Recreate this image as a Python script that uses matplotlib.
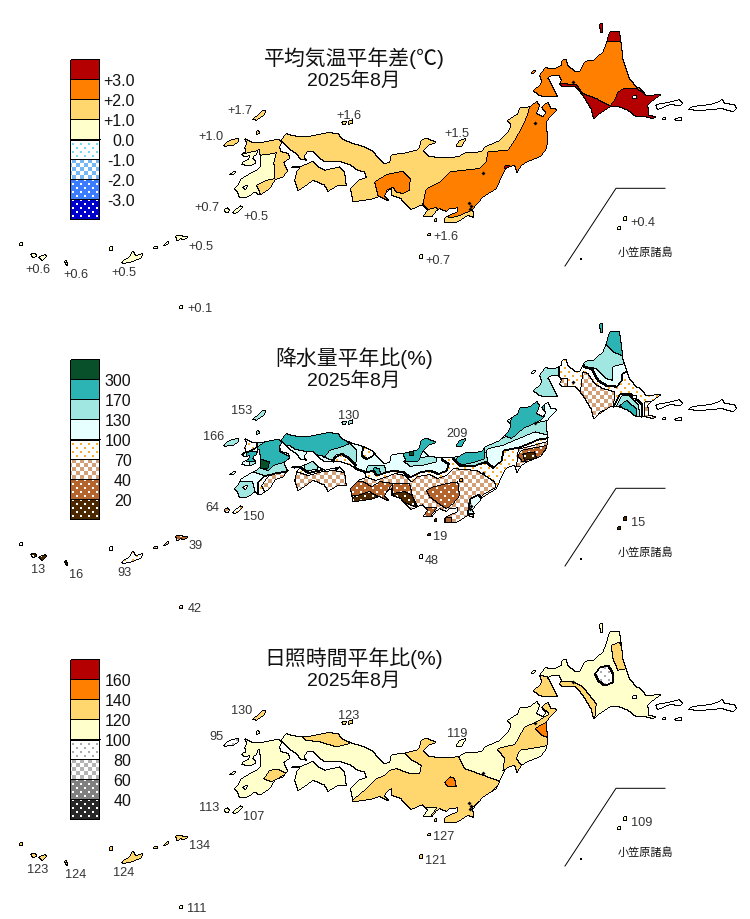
import matplotlib
matplotlib.use("Agg")
import matplotlib.pyplot as plt
import numpy as np
from matplotlib.colors import to_rgb
from matplotlib.path import Path

plt.rcParams['font.family'] = ['Liberation Sans', 'Noto Sans CJK JP']

W, H = 750, 920
PANEL_H = 320
OFFSETS = [0, 300, 600]

# ---- coast outlines, in pixels of the top panel ----
HONSHU = [(281.7,141.7),(286,135),(293.3,137.3),(306.7,138.3),(328.3,134),(338.3,135),(343.3,140.7),
    (353.3,145),(365,148.3),(374.3,153.3),(378.3,159.3),(385,165),(390,164),(391.7,156),(403.3,155),
    (416.7,151.7),(420,148.3),(421.7,140.7),(428.3,140),(436.7,144),(430,146),(423.3,151.7),(428.3,157.3),
    (440,159.3),(458.3,158.3),(465,154.3),(481.7,153.3),(485,148.3),(498.3,142.7),(508.3,133.3),(511.7,126),
    (507.7,121.7),(518.3,115),(520,109.3),(530,108.3),(537.3,102.3),(540,107.3),(536.7,115),(543.3,118.3),
    (546,114),(541.7,108.3),(548.3,103.3),(551.7,110),(557.3,110.7),(550,118.3),(546.7,123.3),(548.3,143.3),
    (546,151.7),(540,158.3),(527.3,163.3),(521.7,166.7),(517.3,174),(515,166.7),(506.7,169.3),(503.3,175),
    (496.7,190),(483.3,198.3),(473.3,210),(474,219),(468.3,216.7),(456.7,224),(445,224),(445,219),(450,216.7),
    (458.3,212.7),(458.3,209.3),(450,210),(446.7,213),(440,210),(436.7,212),(432,218.3),(423.3,218.3),
    (428,211),(423,206),(411.7,210.7),(403.3,203.3),(401.7,200),(391.7,196.7),(391.7,190),(386.7,193.3),
    (385,197),(390,202.7),(380,198),(370,201),(353.3,203.3),(352.3,196.7),(350.7,189.3),(360,181),(367,179),
    (365,173.3),(358,171.7),(350,166),(340,163),(325,163),(318,158),(313.5,152.5),(308,152.5),(304.5,158),
    (306.7,161.7),(301,160.7),(296.7,155),(290,150.7),(283.3,144)]
KYUSHU = [(245,140),(253.3,144),(261.7,144),(278.3,140.7),(282.3,143.3),(280,148.3),(281.7,153.3),(289,155),
    (290,160),(284.3,163.3),(286.7,170),(288.3,171.7),(283.3,178.3),(278.3,180),(275,181.7),(270,190),
    (260,196.7),(255,193.3),(248.3,198.3),(240,199.3),(237.7,193.3),(234.3,190),(238.3,186.7),(241.7,180),
    (250,175),(258.3,170.7),(261,167.3),(260.3,151.7),(258.3,150.7),(257,156),(254.3,157.3),(253.3,160),
    (255.7,162),(255.7,165),(250,167.3),(241.7,166),(243.3,163.3),(249,160.7),(250,156.7),(245,158.3),
    (241,155),(246.7,153.3),(245,148.3),(247.7,145)]
SHIKOKU = [(295,181.7),(297.7,171.7),(302.3,167.3),(313.3,162.7),(318.3,168.3),(325,171.7),(340,168.3),
    (345,173.3),(346.7,186.7),(338.3,186.7),(328.3,192.7),(325,186.7),(313.3,181.7),(301.7,190),(298.3,191.7)]
SADAMISAKI = [(291.7,167.6),(303,167.6),(303,169),(291.7,169)]
HOKKAIDO = [(606.7,45),(610,33),(620,33),(621.7,45),(623.3,60),(630,80),(636.7,88.3),(641,90),(646.7,97.3),
    (661.7,95.7),(653.3,101.7),(648.3,106.7),(649.3,116.7),(656.7,118.3),(653.3,120),(643.3,117.7),
    (636.7,118.3),(628.3,111.7),(620,108.3),(610,108.3),(600,115),(594,120),(591.7,110.7),(583.3,96.7),
    (576,88.3),(561.7,87.7),(560,85),(561.7,81.7),(559.3,76.7),(551.7,76.7),(548.3,79.3),(553.3,88.3),
    (558.3,98.3),(550,98.3),(540,97.3),(533.3,91.7),(540,86.7),(542.3,83.3),(540,76.7),(545,69.3),(555,70),
    (561.7,66.7),(562.7,60.7),(566.7,60.7),(568.3,66.7),(575,72.7),(580,72.7),(585,62.7),(593.3,61.7),(603.3,53.3)]
MAIN_LAND = [HONSHU, KYUSHU, SHIKOKU, SADAMISAKI, HOKKAIDO]
HOLES = [[(633,97),(637,97),(637,100),(633,100)],
         [(243,188),(248,186.7),(246,191)]]

ISLANDS = [
    [(252.7,121),(258.3,116),(262.7,111.7),(266.7,111.7),(264,116.7),(256.7,121.7)],  # tsushima
    [(256.7,131.7),(259.3,131.7),(260,135),(256.7,135.7)],  # iki
    [(224,146),(230,141.7),(239.3,139.3),(239.3,142.7),(233.3,146.7),(225,147.7)],  # goto
    [(342.3,123.3),(346.7,122.7),(346,126),(343.3,126)],  # oki
    [(349,122.3),(353.3,121),(353.3,125),(349.3,125.7)],
    [(456.7,146.7),(460,141.7),(467.3,139.3),(463.3,145),(461.7,148.3),(456.7,148.3)],  # sado
    [(229.3,176),(233.3,173.3),(236.7,173.3),(233.3,176)],  # koshiki
    [(225,210),(228.3,209.3),(230,211.7),(228.3,214.3),(225,213.3)],  # tanegashima side
    [(233.3,213.3),(240,207.3),(242.7,208.3),(240,211.7),(235,215.7)],  # yakushima side
    [(435,220),(437,220),(437,223),(435,223)],  # izu
    [(428,235.5),(431,235),(431,237),(428,237)],
    [(420,256),(422.5,256),(422.5,260),(420,260)],  # hachijo
    [(624,218),(627,218),(627,222),(624,222)],  # ogasawara
    [(618.5,228),(620.5,228),(620.5,231),(618.5,231)],
    [(600,25),(603,25),(603,34),(601,34)],  # rishiri
    [(531,74),(534,72),(536,72),(533,75)],  # okushiri
    [(20,244),(23,244),(23,247),(20,247)],  # nansei from here
    [(31,255),(36,255),(37,258),(33,259)],
    [(39,258),(46,256),(47,258),(42,262)],
    [(65,262),(67,262),(68,267),(66,266)],
    [(110,248),(113,248),(113,252),(110,252)],
    [(122,263),(130,258),(133,252),(136,257),(143,255),(142,259),(133,263),(124,265)],
    [(154,248),(158,248),(158,250),(154,250)],
    [(164,247),(166,244),(169,243),(168,246)],
    [(176,237),(189,238),(184,241),(180,240),(178,243)],
    [(180,307),(183,307),(183,310),(180,310)],
]
KURILES = [
    [(656,106),(668,104),(680,101),(683,105),(680,107),(670,106),(658,111)],
    [(688,111),(693,108),(710,106),(720,103),(722,100),(725,105),(735,106),(737,110),(733,113),(722,110),(700,112)],
    [(663,119),(665.5,119),(665.5,121),(663,121)],
    [(675,120),(682,119),(682,122),(676,122)],
]
LAKE_X = [482.5, 534.5, 572.5, 469, 471, 470]
LAKE_Y = [174.2, 124, 82.5, 204, 207, 210]
INSET_X = [665, 616, 565]
INSET_Y = [189.3, 189.3, 267]

# ---- class regions: (class, polygon), painted in order ----
temp_base = 2
temp_regions = [
    (3, [(260,156.7),(268.3,156),(276.7,154),(274.3,163.3),(275,173.3),(275,180),(266.7,181.7),(256.7,186.7),(260,193.3),(262,200),(225,205),(225,156),(245,155),(258,152)]),
    (1, [(375,183.3),(386.7,176),(403.3,172.7),(410.7,180),(410,191.7),(403.3,195),(396.7,193.3),(393.3,188.3),(386.7,191.7),(390,205),(378.3,196.7)]),
    (1, [(423.3,205),(426.7,190),(440,183.3),(450,173.3),(480,170),(486.7,163.3),(488.3,153.3),(508.3,151.7),(515,141.7),(523.3,126.7),(528.3,115),(530,108.3),(530,100),(565,100),(565,150),(490,210),(473,211),(460,217),(452,219),(447,218),(440,212),(436,209),(428,211)]),
    (0, [(505,167),(510,167),(510,170),(505,170)]),
    (1, [(530,25),(630,25),(670,90),(670,125),(585,125),(530,105)]),
    (0, [(606.7,43.3),(621.7,43.3),(621.7,30),(606.7,30)]),
    (0, [(560,85),(576.7,86),(583.3,95),(596.7,100),(610,107.3),(615,101.7),(618.3,93.3),(623.3,90),(636.7,90),(645,95),(665,95),(665,125),(590,125),(575,95),(555,88)]),
]
temp_islands = [2,2,2,2,2,2,3,3,3,2,2,3,3,3,0,1,3,3,3,3,3,3,3,3,3,3]

rain_base = 4
rain_regions = [
    (3, [(355,168),(356.7,170),(366.7,173.3),(373.3,171.7),(376.7,176.7),(386.7,173.3),(393.3,171.7),(403.3,173.3),(410,178.3),(420,173.3),(430,171.7),(438.3,175),(446.7,171.7),(449,165),(442,161),(442,150),(454,150),(453.3,160),(460,166.7),(473.3,166.7),(486.7,163.3),(493.3,169),(501.7,161.7),(503.3,151.7),(520,148.3),(540,140),(548.3,139.3),(565,135),(565,95),(530,95),(284,125),(281.5,139),(283,146),(290,155),(305,163),(325,164),(344,169)]),
    (3, [(258.3,193.3),(258.3,183.3),(265,176.7),(273.3,171.7),(285,170.7),(295,170),(295,135),(256.7,135),(256.7,148.3),(250,152),(230,160),(225,200),(258,200)]),
    (3, [(290,170),(296,168.3),(300,168.3),(308.3,174),(323.3,170.7),(333.3,169.3),(345,171),(345,160),(290,160)]),
    (2, [(305,163),(318,163),(318,171),(305,172)]),
    (1, [(278,132),(338,132),(345,141),(350,146),(342,148.3),(330,151.7),(325,158),(312,155),(303,152),(296,151),(290,147),(280,146)]),
    (2, [(325,158.3),(330,151.7),(341.7,148.3),(350,145),(356.7,151.7),(356.7,163.3),(354,164),(348.3,158.3),(341.7,155),(335,156.7),(332.7,161.7),(323.3,158.3)]),
    (4, [(335,158.3),(341.7,155),(350,160),(356,167),(345,175),(333,165)]),
    (4, [(363.3,148),(361.7,156.7),(366.7,160),(373.3,156.7),(375,150)]),
    (2, [(368,167),(385,167),(386.7,173.3),(376.7,176.7),(373.3,171.7),(366.7,173.3)]),
    (1, [(373.3,171.7),(376.7,176.7),(381,175),(380,170),(374,169)]),
    (2, [(403.3,161.7),(436.7,156.7),(436.7,163.3),(423.3,166.7),(410,167.7)]),
    (1, [(403.3,155),(400,150),(415,135),(440,135),(440,146),(423.3,151.7),(420,160),(416.7,163.3),(406.7,163.3)]),
    (0, [(410,153.3),(414,153.3),(414,157.3),(410,157.3)]),
    (2, [(453,158),(485,147),(488,162),(475,166.7),(460,166.7)]),
    (1, [(456.7,160),(463.3,150),(485,145),(485,160),(473.3,164),(463.3,166),(458.3,165)]),
    (2, [(485,148.3),(508.3,136.7),(525,126.7),(548.3,121.7),(555,138.3),(535,133.3),(515,141.7),(503.3,146.7),(488.3,150),(486,153.3)]),
    (1, [(505,137),(510,130),(515,100),(545,100),(545,118),(540,122),(523.3,130),(511.7,140)]),
    # kyushu
    (2, [(250,163),(292,160),(288,172),(265,177),(250,172)]),
    (2, [(258,143),(266,141),(263,152),(258,153)]),
    (1, [(258,148),(270,140),(280,141),(280,153),(290,158),(287,163),(273,167),(268,172),(258,168),(255,165),(258,160)]),
    (0, [(258.3,160),(270,163.3),(268.3,170),(261.7,170),(258.3,166.7)]),
    (1, [(247,153),(257,153),(257,163),(247,163)]),
    (2, [(228,183),(253,183),(256,195),(250,205),(228,205)]),
    (5, [(262,187),(268,178),(276,174),(290,173),(290,180),(268,200)]),
    # shikoku and the south
    (5, [(296,173),(308,177),(323,173),(335,172),(348,175),(350,195),(295,195)]),
    (5, [(352,176),(365,178),(376,182),(388,178),(395,175),(405,177),(412,183),(418,178),(430,176),(438,180),(447,177),(453,170),(477,172),(485,176.7),(495,183.3),(496.7,188.3),(485,195),(474,205),(480,228),(350,228),(350,178)]),
    (6, [(351,190),(355,183),(363,183),(372,188),(380,183),(393,185),(387,193),(387,202),(377,197),(363,197),(352,197)]),
    (7, [(352,200),(357,197),(370,193),(378,198),(373,203),(363,207),(352,205)]),
    (6, [(393,185),(410,185),(413,198),(418,208),(402,200),(393,195)]),
    (7, [(393,195),(405,193),(413,197),(416,208),(410,206),(400,202)]),
    (6, [(426.7,191.7),(433.3,188.3),(446.7,185),(458.3,183.3),(460,196.7),(453.3,205),(446.7,210),(436.7,203.3),(430,198.3)]),
    (6, [(423,209),(437,209),(430,219),(423,219)]),
    (6, [(446,219),(452,219),(452,225),(446,225)]),
    (4, [(459.5,180),(463,180),(463.5,183),(460,183.5)]),
    (3, [(468,215),(470,200),(478,196),(482,200),(474,215)]),
    (5, [(518.7,150.7),(548,143),(550,152),(530,168),(517,168)]),
    (6, [(521.7,151.7),(548,146.7),(541.7,156.7),(535,161.7),(523,163.3),(518,156.7)]),
    (7, [(523.3,155),(535,153.3),(537,160),(525,161.7)]),
    # hokkaido
    (3, [(585,68.3),(591.7,70),(598.3,81.7),(606.7,86.7),(616.7,87.7),(621.7,81.7),(621.7,75),(625,73.3),(640,70),(625,25),(590,40),(575,60)]),
    (2, [(585,68),(583,60),(603,50),(610,45),(625,55),(625,65),(613,68),(613.3,82),(606.7,80),(597,70)]),
    (1, [(606.7,43.3),(610,28),(625,28),(625,58.3),(613,53),(606,45)]),
    (2, [(530,65),(559,65),(559,100),(530,100)]),
    (5, [(583.3,73.3),(588.3,75),(595,85),(603.3,90),(615,93.3),(615,100),(613.3,108.3),(600,113.3),(594,125),(580,100)]),
    (5, [(560,80),(568,80),(568,88),(560,88)]),
    (3, [(613.3,108.3),(620,95),(630,95),(641.7,105),(641.7,120),(613,120)]),
    (2, [(616.7,107.3),(621.7,97.3),(630,97.3),(639.3,106.7),(640,120),(631.7,120)]),
    (1, [(620,106.7),(626.7,101.7),(636.7,110),(636.7,120),(628.3,115)]),
    (5, [(645,103),(651,103),(660,125),(645,125)]),
]
rain_islands = [2,2,2,2,2,1,3,5,4,7,7,5,7,7,1,3,7,7,7,7,4,4,5,5,6,5]

sun_base = 3
sun_regions = [
    (2, [(405,155),(413,162),(421.7,166.7),(420,175),(410,175),(396.7,170),(390,171.7),(385,176.7),(377,180),(363,193),(352,202),(352,225),(476,225),(473,208),(495,190),(501.7,183.3),(483.3,176.7),(465,170),(458.3,156.7),(458,150),(430,135),(415,135)]),
    (3, [(423,209),(437,209),(430,219),(423,219)]),
    (1, [(445,183.3),(450,178.3),(455,180),(456.7,188.3),(448.3,188.3)]),
    (2, [(301,137.3),(301,130),(340,130),(350,145),(336.7,148.3),(320,143.3),(306.7,141.7)]),
    (2, [(264,180),(270,171.7),(278.3,170.7),(286.7,175),(271.7,183.3)]),
    (2, [(497.3,150),(515,146),(525,128.3),(536.7,123.3),(550,115),(541,108),(551,100),(565,108),(552,125),(555,145),(541.7,148.3),(520,151.7),(516.7,160),(521.7,166.7),(517.7,178),(515,166.7),(503.3,172),(505,160)]),
    (1, [(535,130),(546.7,123.3),(552,140),(541.7,136.7)]),
    (2, [(611.7,46.7),(620,43.3),(625,56.7),(628,70),(618.3,71.7),(613.3,60)]),
    (2, [(560,82.7),(573.3,83.3),(583.3,88.3),(596.7,105),(595,122),(580,100),(570,92),(560,92)]),
    (2, [(540,76.7),(548.3,78.3),(553.3,88.3),(560,100),(530,100),(530,90)]),
    (4, [(595,75),(600,68.3),(608.3,66.7),(613.3,75),(613.3,83.3),(605,86.7),(598.3,81.7)]),
]
sun_islands = [2,3,4,2,2,3,3,3,3,2,2,2,3,3,3,3,2,2,2,2,2,2,2,2,2,3]

# ---- legend classes, top to bottom ----
temp_styles = [('#b40000',None),('#ff8000',None),('#ffd76e',None),('#ffffcc',None),
    ('#6fdcef','dots'),('#78b8f2','check'),('#3c7dff','wdots'),('#0000cd','wdots')]
rain_styles = [('#07502a',None),('#2cb4b4',None),('#a0e6e1',None),('#e6ffff',None),
    ('#f5aa32','dots'),('#d2a078','check'),('#b4642d','wdots'),('#4b2800','wdots')]
sun_styles = [('#b40000',None),('#ff8000',None),('#ffd76e',None),('#ffffcc',None),
    ('#aaaaaa','dots'),('#b4b4b4','check'),('#808080','wdots'),('#282828','wdots')]
temp_ticks = ['+3.0','+2.0','+1.0','0.0','-1.0','-2.0','-3.0']
rain_ticks = ['300','170','130','100','70','40','20']
sun_ticks = ['160','140','120','100','80','60','40']

# ---- station labels in order: tsushima, oki, goto, sado, tanegashima, yakushima,
#      izu, hachijo, ogasawara, amami, yaeyama, miyako, okinawa, daito ----
temp_labels = ['+1.7','+1.6','+1.0','+1.5','+0.7','+0.5','+1.6','+0.7','+0.4','+0.5','+0.6','+0.6','+0.5','+0.1']
rain_labels = ['153','130','166','209','64','150','19','48','15','39','13','16','93','42']
sun_labels = ['130','123','95','119','113','107','127','121','109','134','123','124','124','111']
label_x = [252.5,349,224,457,219.5,243,433.5,425,630.5,188.5,38,76,124,187.5]
label_y = [111.5,115.8,137.5,133.8,208,217.5,237.5,261,223,246.5,269.8,275,273.5,309.5]
label_ha = ['right','center','right','center','right','left','left','left','left','left','center','center','center','left']

titles = ['平均気温平年差(℃)','降水量平年比(%)','日照時間平年比(%)']
subtitle = '2025年8月'


def poly_mask(pts, grid):
    return Path(np.array(pts)).contains_points(grid).reshape(PANEL_H, W)


def paint_panel(base, regions, island_classes, grid):
    land = np.zeros((PANEL_H, W), bool)
    for poly in MAIN_LAND:
        land |= poly_mask(poly, grid)
    cls = np.full((PANEL_H, W), -1)
    cls[land] = base
    for c, poly in regions:
        cls[land & poly_mask(poly, grid)] = c
    for c, poly in zip(island_classes, ISLANDS):
        cls[poly_mask(poly, grid)] = c
    for poly in KURILES:
        cls[poly_mask(poly, grid)] = 8
    for poly in HOLES:
        cls[poly_mask(poly, grid)] = -1
    # legend column
    for i in range(8):
        cls[61 + 20 * i:81 + 20 * i, 71:100] = i
    return cls


def to_image(cls, styles):
    yy, xx = np.mgrid[0:cls.shape[0], 0:W]
    dots = ((xx % 8 < 2) & (yy % 8 < 2)) | (((xx + 4) % 8 < 2) & ((yy + 4) % 8 < 2))
    check = ((xx // 4 + yy // 4) % 2) == 0
    img = np.ones(cls.shape + (3,))
    for i, (col, kind) in enumerate(styles):
        m = cls == i
        rgb = np.array(to_rgb(col))
        if kind is None:
            img[m] = rgb
        elif kind == 'dots':
            img[m & dots] = rgb
        elif kind == 'check':
            img[m & check] = rgb
        else:
            img[m] = rgb
            img[m & dots] = 1.0
    # class borders
    edge = np.zeros(cls.shape, bool)
    thick = np.zeros(cls.shape, bool)
    for a, b, e, t in [(cls[:, :-1], cls[:, 1:], edge[:, :-1], thick[:, :-1]),
                       (cls[:-1, :], cls[1:, :], edge[:-1, :], thick[:-1, :])]:
        e |= a != b
        upper = ((a >= 0) & (a <= 3) & (b >= 4) & (b <= 7))
        lower = ((b >= 0) & (b <= 3) & (a >= 4) & (a <= 7))
        t |= upper | lower
    fat = thick.copy()
    fat[1:, :] |= thick[:-1, :]
    fat[:, 1:] |= thick[:, :-1]
    img[edge | fat] = 0.0
    return img


yy, xx = np.mgrid[0:PANEL_H, 0:W]
grid = np.column_stack([xx.ravel() + 0.5, yy.ravel() + 0.5])

fig = plt.figure(figsize=(W / 100, H / 100), dpi=100)
ax = fig.add_axes([0, 0, 1, 1])

panels = [(temp_base, temp_regions, temp_islands, temp_styles, temp_ticks, temp_labels, 134.5),
          (rain_base, rain_regions, rain_islands, rain_styles, rain_ticks, rain_labels, 131.5),
          (sun_base, sun_regions, sun_islands, sun_styles, sun_ticks, sun_labels, 131.5)]

canvas = np.ones((H, W, 3))
for off, (base, regions, islands, styles, ticks, labels, tick_x) in zip(OFFSETS, panels):
    cls = paint_panel(base, regions, islands, grid)
    img = to_image(cls, styles)
    view = canvas[off:off + PANEL_H]
    painted = img.min(axis=2) < 1.0
    keep = cls != -1
    view[painted | keep] = img[painted | keep]

ax.imshow(canvas, extent=(0, W, H, 0), interpolation='nearest', aspect='auto')

for off, title, (base, regions, islands, styles, ticks, labels, tick_x) in zip(OFFSETS, titles, panels):
    ax.text(354, off + 58, title, ha='center', va='center', fontsize=15, color='#111111')
    ax.text(354, off + 81, subtitle, ha='center', va='center', fontsize=14, color='#111111')
    for i, t in enumerate(ticks):
        ax.text(tick_x, off + 81.3 + 20 * i, t, ha='right', va='center', fontsize=11.5, color='#111111')
    for t, x, y, ha in zip(labels, label_x, label_y, label_ha):
        ax.text(x, off + y, t, ha=ha, va='center', fontsize=9.2, color='#333333')
    ax.plot(INSET_X, np.array(INSET_Y) + off, color='black', lw=0.7)
    ax.scatter([581], [off + 259.5], s=3, marker='s', color='black', linewidths=0)
    ax.scatter(LAKE_X, np.array(LAKE_Y) + off, s=4, marker='D', color='black', linewidths=0)
    ax.text(645, off + 252.5, '小笠原諸島', ha='center', va='center', fontsize=8, color='#111111')

ax.set_xlim(0, W)
ax.set_ylim(H, 0)
ax.axis('off')
fig.savefig('out.png', dpi=100)
